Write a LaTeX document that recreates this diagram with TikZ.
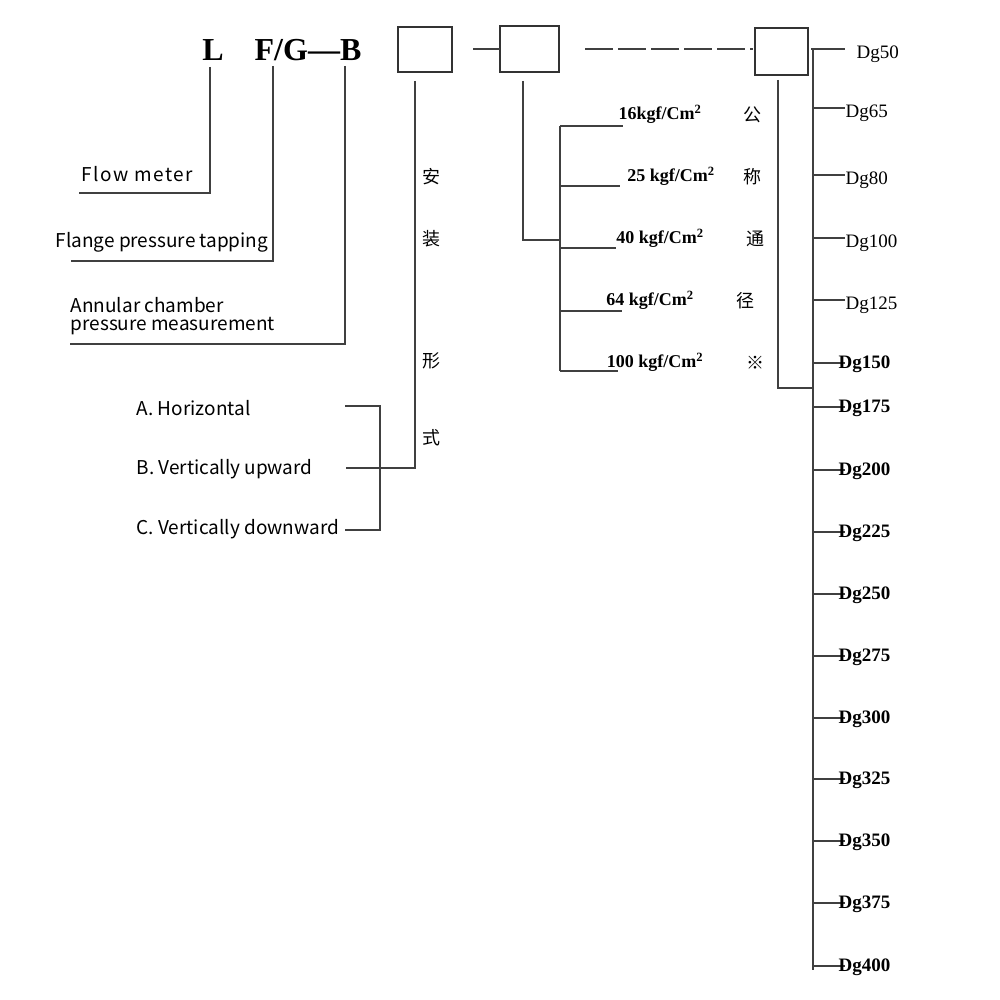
\documentclass[tikz,border=0pt]{standalone}
\usepackage{fontspec}
\setmainfont{Liberation Serif}
\newfontfamily\cjk{Noto Sans CJK SC}
\begin{document}
\begin{tikzpicture}[x=1pt,y=-1pt,line width=1.3pt,draw=black!75,
  box/.style={draw=black!80,line width=1.4pt},
  big/.style={font=\fontsize{32}{34}\selectfont\bfseries},
  lab/.style={font=\cjk\fontsize{19}{19}\selectfont,anchor=west,inner sep=0},
  ch/.style={font=\cjk\fontsize{18}{18}\selectfont,inner sep=0},
  pr/.style={font=\fontsize{18}{18}\selectfont\bfseries,inner sep=0},
  dg/.style={font=\fontsize{19}{19}\selectfont,anchor=west,inner sep=0},
  dgb/.style={font=\fontsize{19}{19}\selectfont\bfseries,anchor=west,inner sep=0}]
\useasboundingbox (0,0) rectangle (1000,1000);
\node[big] (L) at (213,50) {L};
\node[big] (FGB) at (308,50) {F/G—B};
\draw[box] (398,27) rectangle (452,72) coordinate (b1);
\draw[box] (500,26) rectangle (559,72);
\draw[box] (755,28) rectangle (808,75);
\draw (473,49) -- (500,49);
\draw[dash pattern=on 28pt off 5pt] (585,49) -- (753,49);
\draw (811,49) -- (845,49);
\draw (813,49) -- (813,970);
% left labels
\node[lab,font=\cjk\fontsize{19}{19}\selectfont\addfontfeature{LetterSpace=8}] (fm) at (81,174) {Flow meter};
\draw (210,67) -- (210,193) -- (79,193);
\node[lab] (fp) at (55,242) {Flange pressure tapping};
\draw (273,66) -- (273,261) -- (71,261);
\node[lab,align=left,font=\cjk\fontsize{19}{18}\selectfont] (ac) at (70,316) {Annular chamber\\pressure measurement};
\draw (345,66) -- (345,344) -- (70,344);
% installation
\draw (415,81) -- (415,468) -- (346,468);
\node[ch] (c1) at (431,177) {安};
\node[ch] (c2) at (431,239) {装};
\node[ch] (c3) at (431,361) {形};
\node[ch] (c4) at (431,438) {式};
\node[lab] (A) at (136,408) {A. Horizontal};
\node[lab] (B) at (136,469) {B. Vertically upward};
\node[lab] (C) at (136,529) {C. Vertically downward};
\draw (345,406) -- (380,406) -- (380,530) -- (345,530);
% pressure
\draw (523,81) -- (523,240) -- (560,240);
\draw (560,126) -- (560,371);
\draw (560,126) -- (623,126);
\draw (560,186) -- (620,186);
\draw (560,248) -- (616,248);
\draw (560,311) -- (622,311);
\draw (560,371) -- (618,371);
\node[pr] (p1) at (660,114) {16kgf/Cm$^{\mathbf 2}$};
\node[pr] (p2) at (671,176) {25 kgf/Cm$^{\mathbf 2}$};
\node[pr] (p3) at (660,238) {40 kgf/Cm$^{\mathbf 2}$};
\node[pr] (p4) at (650,300) {64 kgf/Cm$^{\mathbf 2}$};
\node[pr] (p5) at (655,362) {100 kgf/Cm$^{\mathbf 2}$};
\node[ch] (g1) at (752,115) {公};
\node[ch] (g2) at (752,177) {称};
\node[ch] (g3) at (755,239) {通};
\node[ch] (g4) at (745,301) {径};
\node[ch] (g5) at (755,363) {※};
% diameters
\draw (778,80) -- (778,388) -- (813,388);
\node[dg] (d50) at (856,54) {Dg50};
\foreach \y/\t in {108/65,175/80,238/100,300/125}{
  \draw (813,\y) -- (845,\y);
  \node[dg] at (845,\y+5) {Dg\t};}
\foreach \y/\t in {363/150,407/175,470/200,532/225,594/250,656/275,718/300,779/325,841/350,903/375,966/400}{
  \draw (813,\y) -- (845,\y);
  \node[dgb] at (838,\y+1) {Dg\t};}
\end{tikzpicture}
\end{document}
